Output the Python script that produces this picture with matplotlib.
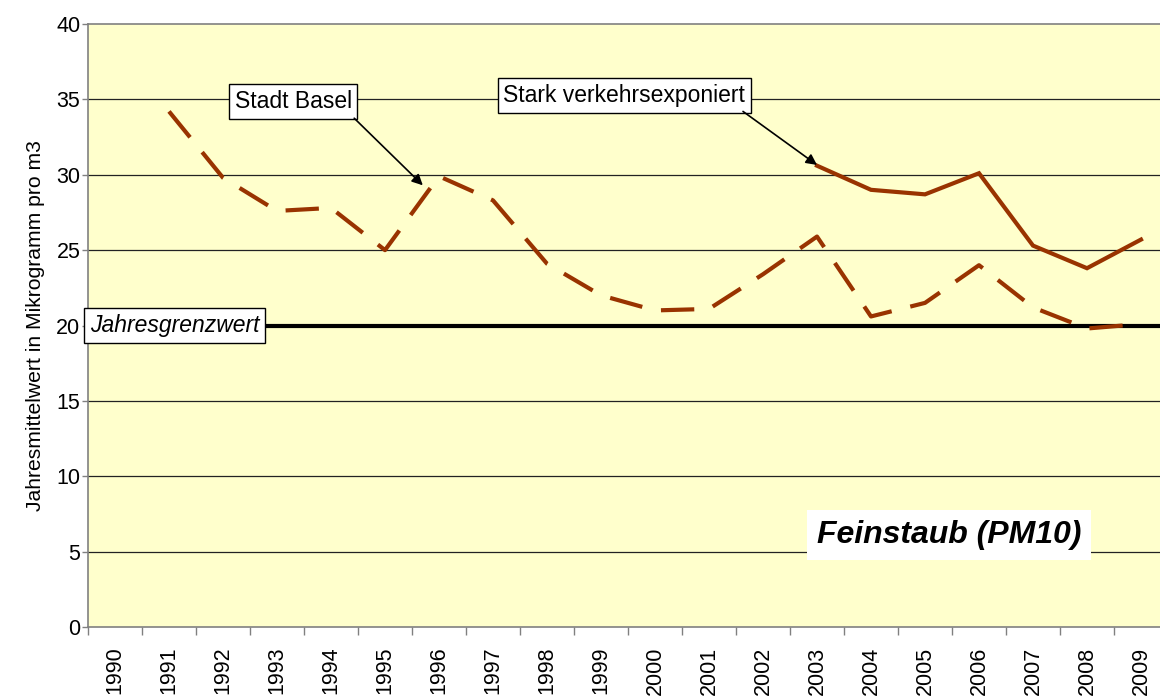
import matplotlib
matplotlib.use("Agg")
import matplotlib.pyplot as plt
from matplotlib.ticker import FixedLocator, NullFormatter

plt.rcParams['font.family'] = ['Liberation Sans', 'DejaVu Sans']

years = [str(y) for y in range(1990, 2010)]
stadt_basel = [None, 34.2, 29.8, 27.6, 27.8, 25.0, 29.9, 28.3, 24.1, 22.0,
               21.0, 21.1, 23.4, 25.9, 20.6, 21.5, 24.0, 21.2, 19.8, 20.1]
stark_verkehr = [None] * 13 + [30.6, 29.0, 28.7, 30.1, 25.3, 23.8, 25.7]
grenzwert = 20
y_ticks = [0, 5, 10, 15, 20, 25, 30, 35, 40]

W, H = 1160, 697
fig = plt.figure(figsize=(W / 100, H / 100), dpi=100)
fig.patch.set_facecolor('white')
ax = fig.add_axes([88 / W, (H - 627) / H, 1080 / W, 603 / H])
ax.set_facecolor('#FFFFCC')

idx = list(range(len(years)))
ax.set_xlim(-0.5, len(years) - 0.5)
ax.set_ylim(0, 40)

# grid
for v in y_ticks[1:-1]:
    ax.axhline(v, color='#222222', lw=0.9, zorder=1)

# limit line
ax.axhline(grenzwert, color='black', lw=3, zorder=3)

brown = '#993300'
xs_b = [i for i, v in zip(idx, stadt_basel) if v is not None]
ys_b = [v for v in stadt_basel if v is not None]
ax.plot(xs_b, ys_b, color=brown, lw=3, dashes=(8, 4.6), zorder=4,
        solid_capstyle='butt', dash_capstyle='butt')
xs_s = [i for i, v in zip(idx, stark_verkehr) if v is not None]
ys_s = [v for v in stark_verkehr if v is not None]
ax.plot(xs_s, ys_s, color=brown, lw=3, zorder=4, solid_joinstyle='miter')

# axes styling
for s in ['top', 'right', 'bottom', 'left']:
    ax.spines[s].set_color('#808080')
    ax.spines[s].set_linewidth(1.2)
ax.set_yticks(y_ticks)
ax.tick_params(axis='y', direction='out', length=4, width=1, color='#808080',
               labelsize=15.5, pad=1.5)
ax.set_xticks(idx)
ax.set_xticklabels(years, rotation=90, fontsize=15.5, va='top', ha='center')
ax.xaxis.set_minor_locator(FixedLocator([i - 0.5 for i in range(len(years) + 1)]))
ax.xaxis.set_minor_formatter(NullFormatter())
ax.tick_params(axis='x', which='major', length=0, pad=14)
ax.tick_params(axis='x', which='minor', direction='out', length=6, width=1,
               color='#808080')
ax.set_ylabel('Jahresmittelwert in Mikrogramm pro m3', fontsize=15.2, labelpad=8)

box = dict(boxstyle='square,pad=0.25', fc='white', ec='black', lw=1)
ax.text(3.30, 34.85, 'Stadt Basel', fontsize=16.5, ha='center', va='center',
        bbox=box, zorder=6)
ax.text(9.43, 35.25, 'Stark verkehrsexponiert', fontsize=16.5, ha='center',
        va='center', bbox=box, zorder=6)
ax.text(1.11, 20.0, 'Jahresgrenzwert', fontsize=16.5, style='italic',
        ha='center', va='center', bbox=box, zorder=6, clip_on=False)
ax.text(15.44, 6.1, 'Feinstaub (PM10)', fontsize=23, style='italic',
        weight='bold', ha='center', va='center',
        bbox=dict(boxstyle='square,pad=0.3', fc='white', ec='none'), zorder=6)

arrow = dict(arrowstyle='-|>', color='black', lw=1.2, mutation_scale=16,
             shrinkA=0, shrinkB=0)
ax.annotate('', xy=(5.70, 29.3), xytext=(4.43, 33.75), arrowprops=arrow,
            zorder=6)
ax.annotate('', xy=(13.0, 30.65), xytext=(11.63, 34.2), arrowprops=arrow,
            zorder=6)

fig.savefig('out.png', dpi=100)
